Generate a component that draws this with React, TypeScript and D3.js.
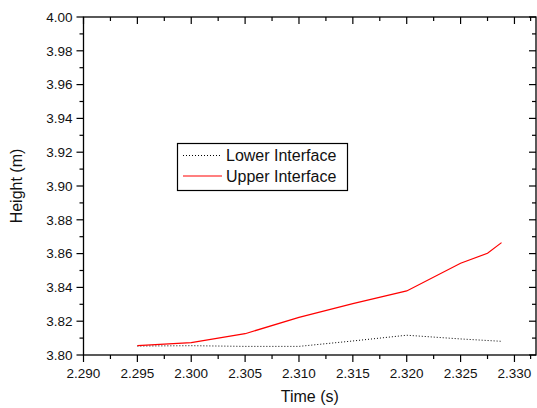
import React, { useEffect, useRef } from "react";
import * as d3 from "d3";

const width = 537;
const height = 408;
const margin = { top: 17, right: 1, bottom: 53, left: 83.5 };

// Time (s) and heights (m)
const upperTime = [2.295, 2.3, 2.305, 2.31, 2.315, 2.32, 2.325, 2.3275, 2.3288];
const upperHeight = [3.8055, 3.8073, 3.8126, 3.8223, 3.8304, 3.8379, 3.8543, 3.8602, 3.8665];
const lowerTime = [2.295, 2.3, 2.305, 2.31, 2.315, 2.32, 2.325, 2.3288];
const lowerHeight = [3.8053, 3.8055, 3.8051, 3.8051, 3.8083, 3.8117, 3.8095, 3.8081];

const xTicks = [2.29, 2.295, 2.3, 2.305, 2.31, 2.315, 2.32, 2.325, 2.33];
const xMinor = [2.2925, 2.2975, 2.3025, 2.3075, 2.3125, 2.3175, 2.3225, 2.3275, 2.3315];
const yTicks = [3.8, 3.82, 3.84, 3.86, 3.88, 3.9, 3.92, 3.94, 3.96, 3.98, 4.0];
const yMinor = [3.81, 3.83, 3.85, 3.87, 3.89, 3.91, 3.93, 3.95, 3.97, 3.99];

const seriesNames = ["Lower Interface", "Upper Interface"];

function Chart() {
  const ref = useRef<SVGSVGElement>(null);

  useEffect(() => {
    const svg = d3.select(ref.current);
    svg.selectAll("*").remove();
    const font = "Liberation Sans, Arial, sans-serif";

    const x = d3.scaleLinear().domain([2.29, 2.332]).range([margin.left, width - margin.right]);
    const y = d3.scaleLinear().domain([3.8, 4.0]).range([height - margin.bottom, margin.top]);
    const x0 = margin.left, x1 = width - margin.right;
    const y0 = height - margin.bottom, y1 = margin.top;

    // frame
    svg.append("rect")
      .attr("x", x0).attr("y", y1).attr("width", x1 - x0).attr("height", y0 - y1)
      .attr("fill", "none").attr("stroke", "#000").attr("stroke-width", 1.3);

    const ticks = svg.append("g").attr("stroke", "#000").attr("stroke-width", 1.2);
    // bottom (outward) and top (inward)
    xTicks.forEach((t) => {
      ticks.append("line").attr("x1", x(t)).attr("x2", x(t)).attr("y1", y0).attr("y2", y0 + 7);
      ticks.append("line").attr("x1", x(t)).attr("x2", x(t)).attr("y1", y1).attr("y2", y1 + 7);
    });
    xMinor.filter((t) => t < 2.332).forEach((t) => {
      ticks.append("line").attr("x1", x(t)).attr("x2", x(t)).attr("y1", y0).attr("y2", y0 + 4);
      ticks.append("line").attr("x1", x(t)).attr("x2", x(t)).attr("y1", y1).attr("y2", y1 + 4);
    });
    // left (outward) and right (inward)
    yTicks.forEach((t) => {
      ticks.append("line").attr("x1", x0 - 7).attr("x2", x0).attr("y1", y(t)).attr("y2", y(t));
      ticks.append("line").attr("x1", x1 - 7).attr("x2", x1).attr("y1", y(t)).attr("y2", y(t));
    });
    yMinor.forEach((t) => {
      ticks.append("line").attr("x1", x0 - 4).attr("x2", x0).attr("y1", y(t)).attr("y2", y(t));
      ticks.append("line").attr("x1", x1 - 4).attr("x2", x1).attr("y1", y(t)).attr("y2", y(t));
    });

    // tick labels
    svg.append("g").selectAll("text").data(xTicks).enter().append("text")
      .attr("x", (d) => x(d)).attr("y", y0 + 23)
      .attr("text-anchor", "middle").attr("font-family", font).attr("font-size", 13.5)
      .attr("fill", "#111").text((d) => d3.format(".3f")(d));
    svg.append("g").selectAll("text").data(yTicks).enter().append("text")
      .attr("x", x0 - 11).attr("y", (d) => y(d)).attr("dy", "0.36em")
      .attr("text-anchor", "end").attr("font-family", font).attr("font-size", 13.5)
      .attr("fill", "#111").text((d) => d3.format(".2f")(d));

    // axis titles
    svg.append("text").attr("x", (x0 + x1) / 2).attr("y", 402)
      .attr("text-anchor", "middle").attr("font-family", font).attr("font-size", 16)
      .attr("fill", "#111").text("Time (s)");
    svg.append("text").attr("transform", `translate(22,${(y0 + y1) / 2}) rotate(-90)`)
      .attr("text-anchor", "middle").attr("font-family", font).attr("font-size", 16)
      .attr("fill", "#111").text("Height (m)");

    const line = d3.line<[number, number]>().x((d) => x(d[0])).y((d) => y(d[1]));
    const lower = lowerTime.map((t, i) => [t, lowerHeight[i]] as [number, number]);
    const upper = upperTime.map((t, i) => [t, upperHeight[i]] as [number, number]);

    svg.append("path").attr("d", line(lower)).attr("fill", "none")
      .attr("stroke", "#000").attr("stroke-width", 1).attr("stroke-dasharray", "1,2");
    svg.append("path").attr("d", line(upper)).attr("fill", "none")
      .attr("stroke", "#ff0000").attr("stroke-width", 1.2);

    // legend
    const lg = svg.append("g");
    lg.append("rect").attr("x", 177.5).attr("y", 143.5).attr("width", 170).attr("height", 47)
      .attr("fill", "#fff").attr("stroke", "#000").attr("stroke-width", 1.2);
    seriesNames.forEach((name, i) => {
      const cy = 155.5 + i * 20.5;
      lg.append("line").attr("x1", 183).attr("x2", 222).attr("y1", cy).attr("y2", cy)
        .attr("stroke", i === 0 ? "#000" : "#ff0000").attr("stroke-width", i === 0 ? 1 : 1.2)
        .attr("stroke-dasharray", i === 0 ? "1,2" : null);
      lg.append("text").attr("x", 226).attr("y", cy).attr("dy", "0.36em")
        .attr("font-family", font).attr("font-size", 16).attr("fill", "#111").text(name);
    });
  }, []);

  return <svg ref={ref} width={width} height={height} style={{ display: "block" }} />;
}

export default function App() {
  return (
    <div style={{ position: "absolute", left: 0, top: 0, background: "#fff" }}>
      <Chart />
    </div>
  );
}
